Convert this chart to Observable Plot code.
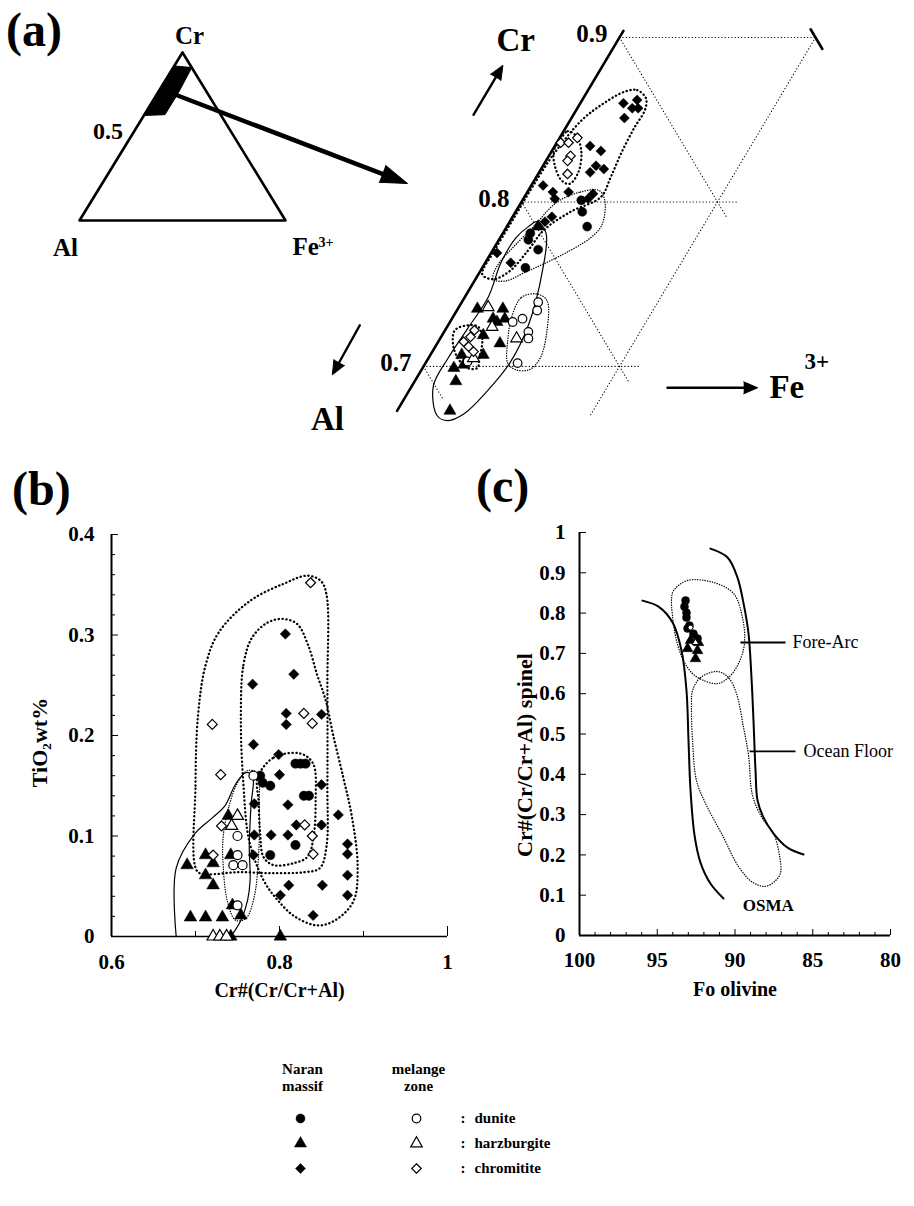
<!DOCTYPE html>
<html><head><meta charset="utf-8">
<script src="https://cdn.jsdelivr.net/npm/d3@7"></script>
<script src="https://cdn.jsdelivr.net/npm/@observablehq/plot@0.6"></script>
<style>
body{margin:0;background:#fff;}
#root{position:relative;width:914px;height:1206px;overflow:hidden;font-family:"Liberation Serif","Times New Roman",Times,serif;font-weight:bold;color:#000;}
#root > *{position:absolute;}
.plab{font-size:48px;line-height:1.1;}
</style></head><body><div id="root"></div>
<script>
// ================= DATA =================
const rockTypes = ["dunite", "harzburgite", "chromitite"];
const sources = ["Naran massif", "melange zone"];
const symbolNames = ["circle", "triangle", "diamond2"];

// ---- Panel (a): ternary Cr–Al–Fe3+, points as [Cr, Fe3+] fractions (Al = 1 − Cr − Fe3+)
const aNaranDunite = [[0.794,0.034],[0.785,0.041],[0.801,0.030],[0.777,0.015],[0.771,0.023],[0.760,0.022],[0.781,0.014]];
const aNaranHarzburgite = [[0.735,0.010],[0.735,0.023],[0.727,0.024],[0.729,0.027],[0.719,0.021],[0.714,0.032],[0.707,0.016],[0.707,0.027],[0.699,0.016],[0.701,0.020],[0.691,0.021],[0.673,0.027],[0.785,0.016],[0.729,0.021]];
const aNaranChromitite = [[0.860,0.022],[0.862,0.028],[0.857,0.028],[0.857,0.031],[0.851,0.027],[0.834,0.018],[0.831,0.025],[0.822,0.027],[0.818,0.026],[0.820,0.032],[0.810,0.006],[0.806,0.013],[0.802,0.016],[0.806,0.021],[0.805,0.034],[0.802,0.033],[0.791,0.020],[0.788,0.018],[0.769,0.003],[0.763,0.013]];
const aMelangeDunite = [[0.739,0.039],[0.734,0.041],[0.727,0.032],[0.729,0.036],[0.721,0.043],[0.717,0.045],[0.702,0.047],[0.703,0.021]];
const aMelangeHarzburgite = [[0.736,0.015],[0.724,0.023],[0.717,0.039],[0.705,0.023]];
const aMelangeChromitite = [[0.836,0.002],[0.836,0.006],[0.839,0.009],[0.828,0.011],[0.825,0.011],[0.817,0.015],[0.722,0.015],[0.718,0.015],[0.715,0.013],[0.712,0.017],[0.709,0.021]];
// envelopes (a)
const aEnvNaranChromitite = [[0.867,0.019],[0.868,0.025],[0.863,0.032],[0.856,0.035],[0.845,0.035],[0.83,0.036],[0.815,0.038],[0.803,0.039],[0.794,0.028],[0.783,0.02],[0.77,0.018],[0.758,0.015],[0.753,0.009],[0.756,0.002],[0.77,0.001],[0.79,0.001],[0.81,0.001],[0.83,0.002],[0.85,0.006],[0.86,0.012]];
const aEnvMelangeChromititeUpper = [[0.837,0.001],[0.843,0.002],[0.840,0.008],[0.831,0.015],[0.818,0.020],[0.811,0.019],[0.813,0.014],[0.822,0.006],[0.831,0.001]];
const aEnvMelangeChromititeLower = [[0.722,0.005],[0.725,0.010],[0.724,0.016],[0.716,0.022],[0.705,0.026],[0.699,0.028],[0.699,0.023],[0.705,0.015],[0.714,0.008]];
const aEnvNaranDunite = [[0.801,0.019],[0.806,0.027],[0.807,0.036],[0.801,0.042],[0.786,0.048],[0.778,0.046],[0.769,0.038],[0.763,0.031],[0.757,0.023],[0.752,0.016],[0.753,0.009],[0.761,0.007],[0.774,0.010],[0.786,0.014],[0.795,0.016]];
const aEnvNaranHarzburgite = [[0.788,0.014],[0.781,0.022],[0.757,0.032],[0.725,0.041],[0.702,0.043],[0.685,0.040],[0.671,0.035],[0.667,0.029],[0.670,0.022],[0.688,0.011],[0.705,0.010],[0.723,0.011],[0.742,0.012],[0.763,0.008],[0.778,0.008],[0.785,0.011]];
const aEnvMelangeDunite = [[0.730,0.030],[0.742,0.029],[0.744,0.036],[0.740,0.043],[0.722,0.052],[0.705,0.057],[0.698,0.055],[0.698,0.048],[0.702,0.042],[0.716,0.035]];
// ternary grid segments shown in the enlarged part, [Cr, Fe3+] end points
const aGrid = [
  {id: "Cr=0.9", pts: [[0.9,0],[0.9,0.1]]},
  {id: "Cr=0.8", pts: [[0.8,0],[0.8,0.11]]},
  {id: "Cr=0.7", pts: [[0.7,0],[0.7,0.11]]},
  {id: "Al=0.1", pts: [[0.9,0],[0.79,0.11]]},
  {id: "Al=0.2", pts: [[0.8,0],[0.69,0.11]]},
  {id: "Al=0.3", pts: [[0.7,0],[0.68,0.02]]},
  {id: "Fe=0.1", pts: [[0.9,0.1],[0.67,0.1]]}
];
const aEdges = [
  {id: "Cr-Al edge", pts: [[0.904,0],[0.673,0]]},
  {id: "Cr-Fe edge", pts: [[0.905,0.095],[0.893,0.107]]}
];
const aTickValues = [0.7, 0.8, 0.9];
const aDirArrows = [
  {name: "Cr", from: [0.853,-0.051], to: [0.883,-0.051]},
  {name: "Al", from: [0.725,-0.045], to: [0.695,-0.044]},
  {name: "Fe", from: [0.687,0.131], to: [0.687,0.177]}
];
const aDirTitlesCentered = [
  {text: "Cr", at: [0.898,-0.052]},
  {text: "Al", at: [0.668,-0.033]}
];
const aDirTitleFe = [{text: "Fe", sup: "3+", at: [0.687,0.183]}];
// inset triangle
const insetVertices = [{name: "Cr", p: [1,0]}, {name: "Al", p: [0,0]}, {name: "Fe", p: [0,1]}];
const insetRegion = [[0.92,0],[0.91,0.09],[0.76,0.10],[0.63,0.10],[0.625,0]];
const insetTick = [0.5];
const insetArrow = [{from: [0.744,0.104], to: [0.220,1.482]}];

// ---- Panel (b): [Cr#, TiO2 wt%]
const bNaranDunite = [[0.819,0.172],[0.825,0.172],[0.831,0.172],[0.777,0.160],[0.780,0.153],[0.789,0.150],[0.829,0.140],[0.835,0.140],[0.819,0.091],[0.789,0.081]];
const bNaranHarzburgite = [[0.739,0.120],[0.690,0.071],[0.712,0.081],[0.721,0.073],[0.712,0.061],[0.721,0.051],[0.742,0.081],[0.712,0.019],[0.732,0.019],[0.754,0.021],[0.744,0.031],[0.694,0.019],[0.801,0.0],[0.742,0.0]];
const bNaranChromitite = [[0.807,0.301],[0.817,0.261],[0.768,0.251],[0.808,0.222],[0.808,0.211],[0.850,0.221],[0.769,0.191],[0.799,0.181],[0.800,0.161],[0.850,0.151],[0.810,0.131],[0.770,0.132],[0.870,0.121],[0.820,0.111],[0.850,0.111],[0.770,0.101],[0.790,0.101],[0.810,0.101],[0.881,0.092],[0.881,0.082],[0.769,0.081],[0.881,0.061],[0.811,0.051],[0.851,0.051],[0.801,0.041],[0.881,0.041],[0.840,0.021]];
const bMelangeDunite = [[0.750,0.100],[0.750,0.081],[0.745,0.071],[0.756,0.071],[0.769,0.160],[0.750,0.031]];
const bMelangeHarzburgite = [[0.750,0.120],[0.743,0.110],[0.721,0.0],[0.729,0.0],[0.737,0.0]];
const bMelangeChromitite = [[0.837,0.352],[0.720,0.211],[0.829,0.222],[0.839,0.212],[0.730,0.161],[0.830,0.111],[0.839,0.100],[0.840,0.082],[0.731,0.110],[0.721,0.081]];
const bEnvMelangeChromitite = [[0.702,0.065],[0.700,0.15],[0.703,0.22],[0.712,0.27],[0.728,0.303],[0.765,0.334],[0.805,0.351],[0.833,0.359],[0.849,0.354],[0.856,0.34],[0.857,0.25],[0.857,0.15],[0.856,0.09],[0.848,0.068],[0.83,0.064],[0.79,0.063],[0.75,0.064],[0.715,0.062]];
const bEnvNaranChromitite = [[0.754,0.215],[0.757,0.27],[0.767,0.297],[0.785,0.312],[0.803,0.316],[0.821,0.311],[0.834,0.29],[0.845,0.26],[0.855,0.235],[0.864,0.2],[0.876,0.158],[0.886,0.12],[0.893,0.07],[0.888,0.035],[0.866,0.016],[0.845,0.011],[0.818,0.02],[0.798,0.036],[0.781,0.056],[0.764,0.095],[0.757,0.152]];
const bEnvNaranDunite = [[0.774,0.158],[0.793,0.178],[0.825,0.182],[0.840,0.172],[0.843,0.135],[0.840,0.096],[0.833,0.079],[0.817,0.073],[0.793,0.071],[0.781,0.079],[0.777,0.102],[0.775,0.135]];
const bEnvMelangeDunite = [[0.733,0.10],[0.74,0.13],[0.75,0.153],[0.762,0.165],[0.773,0.163],[0.776,0.13],[0.775,0.08],[0.77,0.04],[0.76,0.018],[0.748,0.016],[0.738,0.035],[0.733,0.07]];
const bEnvNaranHarzburgite = [[0.677,0.0],[0.677,0.068],[0.70,0.103],[0.72,0.118],[0.735,0.13],[0.748,0.152],[0.76,0.163],[0.768,0.16],[0.766,0.13],[0.764,0.09],[0.765,0.056],[0.762,0.036],[0.754,0.016],[0.742,0.0]];
const bXTicks = [0.6, 0.8, 1];
const bXMinor = [0.7, 0.9];
const bYTicks = [0, 0.1, 0.2, 0.3, 0.4];
const bYMinor = [0.02,0.04,0.06,0.08,0.12,0.14,0.16,0.18,0.22,0.24,0.26,0.28,0.32,0.34,0.36,0.38];

// ---- Panel (c): [Fo olivine, Cr# spinel]
const cNaranDunite = [[93.18,0.831],[93.25,0.816],[93.12,0.789],[93.05,0.762],[92.67,0.749],[92.41,0.737],[92.93,0.769],[93.12,0.801]];
const cNaranHarzburgite = [[93.05,0.712],[92.41,0.707],[92.54,0.687],[92.86,0.732],[92.35,0.727]];
const cMelangeDunite = [[92.86,0.764]];
const cMelangeHarzburgite = [[92.54,0.727]];
const cOSMALeft = [[95.95,0.831],[94.92,0.816],[94.02,0.777],[93.44,0.707],[93.12,0.608],[92.99,0.484],[92.86,0.360],[92.60,0.248],[92.22,0.181],[91.58,0.129],[90.74,0.092]];
const cOSMARight = [[91.58,0.960],[90.48,0.938],[89.84,0.888],[89.45,0.824],[89.13,0.749],[88.94,0.640],[88.81,0.533],[88.68,0.409],[88.55,0.335],[88.17,0.293],[87.52,0.253],[86.62,0.218],[85.59,0.201]];
const cEnvForeArc = [[93.95,0.856],[93.05,0.881],[91.38,0.876],[90.10,0.849],[89.52,0.789],[89.39,0.725],[89.77,0.675],[90.42,0.640],[91.13,0.625],[92.03,0.633],[92.73,0.650],[93.31,0.682],[93.76,0.732],[94.02,0.794],[94.08,0.836]];
const cEnvOceanFloor = [[92.73,0.608],[92.22,0.640],[91.13,0.655],[90.42,0.640],[89.90,0.600],[89.45,0.516],[89.13,0.447],[88.87,0.347],[88.23,0.290],[87.52,0.253],[87.14,0.199],[87.07,0.156],[87.40,0.136],[88.04,0.122],[88.87,0.132],[89.77,0.171],[90.80,0.248],[91.90,0.328],[92.48,0.385],[92.73,0.484],[92.80,0.571]];
const cLeaders = [
  {text: "Fore-Arc", from: [89.65,0.727], to: [86.75,0.727], at: [86.3,0.727]},
  {text: "Ocean Floor", from: [89.06,0.457], to: [86.11,0.457], at: [85.6,0.457]}
];
const cOSMALabel = [{text: "OSMA", at: [89.5,0.074]}];
const cXTicks = [100, 95, 90, 85, 80];
const cXMinor = [99,98,97,96,94,93,92,91,89,88,87,86,84,83,82,81];
const cYTicks = [0,0.1,0.2,0.3,0.4,0.5,0.6,0.7,0.8,0.9,1];

// ================= HELPERS =================
const FONT = '"Liberation Serif","Times New Roman",Times,serif';
const baseStyle = {background: "transparent", overflow: "visible", fontFamily: FONT, fontWeight: "bold", fontSize: "21px", color: "black"};
const SQ = Math.sqrt(3) / 2;
const tX = p => p[1] + p[0] / 2;
const tY = p => p[0] * SQ;
const recs = (arr, src, rock) => arr.map(p => ({src, rock, p}));
const flat = segs => segs.flatMap(s => s.pts.map(p => ({id: s.id, p})));
const symbolScale = {domain: rockTypes, range: symbolNames};
const heavyDots = {stroke: "black", strokeWidth: 2.3, strokeDasharray: "0.3,3.6", strokeLinecap: "round", fill: "none"};
const fineDots = {stroke: "black", strokeWidth: 1.3, strokeDasharray: "0.3,2.2", strokeLinecap: "round", fill: "none"};
const root = document.getElementById("root");
function place(node, left, top) { node.style.left = left + "px"; node.style.top = top + "px"; root.appendChild(node); }
function angleOf(from, to, kx, ky, fx, fy) {
  const dx = (fx(to) - fx(from)) * kx, dy = -(fy(to) - fy(from)) * ky;
  return Math.atan2(dx, -dy) * 180 / Math.PI;
}

// ================= PANEL (a) inset =================
{
  const W = 440, H = 260, xd = [-0.3835, 1.7524], yd = [-0.2062, 1.134];
  const kx = W / (xd[1] - xd[0]), ky = H / (yd[1] - yd[0]);
  const arrowRot = d => angleOf(d.from, d.to, kx, ky, tX, tY);
  const vx = d => tX(d.p), vy = d => tY(d.p);
  const svg = Plot.plot({
    width: W, height: H, margin: 0,
    x: {domain: xd, axis: null}, y: {domain: yd, axis: null},
    style: baseStyle,
    marks: [
      Plot.line(insetVertices, {x: vx, y: vy, curve: "linear-closed", stroke: "black", strokeWidth: 2.6}),
      Plot.line(insetRegion, {x: tX, y: tY, curve: "linear-closed", fill: "black", stroke: "black", strokeWidth: 1}),
      Plot.arrow(insetArrow, {x1: d => tX(d.from), y1: d => tY(d.from), x2: d => tX(d.to), y2: d => tY(d.to), headLength: 0, insetEnd: 22, strokeWidth: 4.5, stroke: "black"}),
      Plot.vector(insetArrow, {x: d => tX(d.to), y: d => tY(d.to), rotate: arrowRot, length: 27, r: 9, shape: "spike", anchor: "end", fill: "black", stroke: "black", strokeWidth: 1}),
      Plot.text(insetVertices.filter(d => d.name === "Cr"), {x: vx, y: vy, text: "name", dx: 7, dy: -16, fontSize: 25}),
      Plot.text(insetVertices.filter(d => d.name === "Al"), {x: vx, y: vy, text: "name", dx: -14, dy: 28, fontSize: 25}),
      Plot.text(insetVertices.filter(d => d.name === "Fe"), {x: vx, y: vy, text: "name", dx: 7, dy: 27, textAnchor: "start", fontSize: 25}),
      Plot.text(insetVertices.filter(d => d.name === "Fe"), {x: vx, y: vy, text: () => "3+", dx: 33, dy: 22, textAnchor: "start", fontSize: 14}),
      Plot.text(insetTick, {x: v => tX([v, 0]), y: v => tY([v, 0]), text: v => String(v), textAnchor: "end", dx: -8, dy: -5, fontSize: 24})
    ]
  });
  place(svg, 0, 0);
}

// ================= PANEL (a) enlarged =================
{
  const W = 614, H = 440, xd = [0.28724, 0.60051], yd = [0.5672, 0.7989];
  const kx = W / (xd[1] - xd[0]), ky = H / (yd[1] - yd[0]);
  const arrowRot = d => angleOf(d.from, d.to, kx, ky, tX, tY);
  const filled = [...recs(aNaranDunite, sources[0], "dunite"), ...recs(aNaranHarzburgite, sources[0], "harzburgite"), ...recs(aNaranChromitite, sources[0], "chromitite")];
  const open = [...recs(aMelangeDunite, sources[1], "dunite"), ...recs(aMelangeHarzburgite, sources[1], "harzburgite"), ...recs(aMelangeChromitite, sources[1], "chromitite")];
  const env = (arr, style, curve = "catmull-rom-closed") => Plot.line(arr, {x: tX, y: tY, curve, ...style});
  const svg = Plot.plot({
    width: W, height: H, margin: 0,
    x: {domain: xd, axis: null}, y: {domain: yd, axis: null},
    symbol: symbolScale,
    style: baseStyle,
    marks: [
      Plot.line(flat(aGrid), {x: d => tX(d.p), y: d => tY(d.p), z: "id", stroke: "black", strokeWidth: 1.1, strokeDasharray: "0.3,3", strokeLinecap: "round"}),
      Plot.line(flat(aEdges), {x: d => tX(d.p), y: d => tY(d.p), z: "id", stroke: "black", strokeWidth: 2.6}),
      env(aEnvNaranChromitite, heavyDots),
      env(aEnvMelangeChromititeUpper, heavyDots),
      env(aEnvMelangeChromititeLower, heavyDots),
      env(aEnvNaranDunite, fineDots),
      env(aEnvMelangeDunite, fineDots),
      env(aEnvNaranHarzburgite, {stroke: "black", strokeWidth: 1.2, fill: "none"}),
      Plot.dot(filled, {x: d => tX(d.p), y: d => tY(d.p), symbol: "rock", fill: "black", stroke: "black", strokeWidth: 0.5, r: 4.5}),
      Plot.dot(open, {x: d => tX(d.p), y: d => tY(d.p), symbol: "rock", fill: "white", stroke: "black", strokeWidth: 1.2, r: 4.3}),
      Plot.text(aTickValues, {x: v => tX([v, 0]), y: v => tY([v, 0]), text: v => String(v), textAnchor: "end", dx: -12, dy: -3, fontSize: 25}),
      Plot.arrow(aDirArrows, {x1: d => tX(d.from), y1: d => tY(d.from), x2: d => tX(d.to), y2: d => tY(d.to), headLength: 0, insetEnd: 11, strokeWidth: 2.4, stroke: "black"}),
      Plot.vector(aDirArrows, {x: d => tX(d.to), y: d => tY(d.to), rotate: arrowRot, length: 14, r: 6, shape: "spike", anchor: "end", fill: "black", stroke: "black", strokeWidth: 1}),
      Plot.text(aDirTitlesCentered, {x: d => tX(d.at), y: d => tY(d.at), text: "text", textAnchor: "middle", fontSize: 33}),
      Plot.text(aDirTitleFe, {x: d => tX(d.at), y: d => tY(d.at), text: "text", textAnchor: "start", fontSize: 33}),
      Plot.text(aDirTitleFe, {x: d => tX(d.at), y: d => tY(d.at), text: "sup", textAnchor: "start", dx: 35, dy: -26, fontSize: 23})
    ]
  });
  place(svg, 300, 0);
}

// ================= PANEL (b) =================
{
  const filled = [...recs(bNaranDunite, sources[0], "dunite"), ...recs(bNaranHarzburgite, sources[0], "harzburgite"), ...recs(bNaranChromitite, sources[0], "chromitite")];
  const open = [...recs(bMelangeDunite, sources[1], "dunite"), ...recs(bMelangeHarzburgite, sources[1], "harzburgite"), ...recs(bMelangeChromitite, sources[1], "chromitite")];
  const env = (arr, style, curve = "catmull-rom-closed") => Plot.line(arr, {x: d => d[0], y: d => d[1], curve, ...style});
  const svg = Plot.plot({
    width: 470, height: 540, marginLeft: 111, marginRight: 23, marginTop: 54, marginBottom: 84,
    x: {domain: [0.6, 1]}, y: {domain: [0, 0.4]},
    symbol: symbolScale,
    style: baseStyle,
    marks: [
      env(bEnvMelangeChromitite, heavyDots),
      env(bEnvNaranChromitite, heavyDots),
      env(bEnvNaranDunite, heavyDots),
      env(bEnvMelangeDunite, fineDots),
      env(bEnvNaranHarzburgite, {stroke: "black", strokeWidth: 1.2, fill: "none"}, "catmull-rom"),
      Plot.ruleX([0.6], {strokeWidth: 2}),
      Plot.ruleY([0], {strokeWidth: 1.6}),
      Plot.axisX({ticks: bXTicks, tickSize: 10, dy: -10, tickPadding: 18, tickFormat: d => String(d), label: null}),
      Plot.axisX({ticks: bXMinor, tickSize: 5, dy: -5, tickFormat: () => "", label: null}),
      Plot.axisY({ticks: bYTicks, tickSize: 7, dx: 7, tickPadding: 17, tickFormat: d => String(d), label: null}),
      Plot.axisY({ticks: bYMinor, tickSize: 4, dx: 4, tickFormat: () => "", label: null}),
      Plot.dot(filled, {x: d => d.p[0], y: d => d.p[1], symbol: "rock", fill: "black", stroke: "black", strokeWidth: 0.5, r: 4.7}),
      Plot.dot(open, {x: d => d.p[0], y: d => d.p[1], symbol: "rock", fill: "white", stroke: "black", strokeWidth: 1.2, r: 4.5}),
      Plot.text(["TiO₂wt%"], {frameAnchor: "left", text: d => d, textAnchor: "middle", rotate: -90, dx: -72, dy: 7, fontSize: 22}),
      Plot.text(["Cr#(Cr/Cr+Al)"], {frameAnchor: "bottom", text: d => d, dy: 60, fontSize: 20})
    ]
  });
  place(svg, 0, 480);
}

// ================= PANEL (c) =================
{
  const filled = [...recs(cNaranDunite, sources[0], "dunite"), ...recs(cNaranHarzburgite, sources[0], "harzburgite")];
  const open = [...recs(cMelangeDunite, sources[1], "dunite"), ...recs(cMelangeHarzburgite, sources[1], "harzburgite")];
  const crv = (arr, style, curve) => Plot.line(arr, {x: d => d[0], y: d => d[1], curve, ...style});
  const svg = Plot.plot({
    width: 454, height: 540, marginLeft: 119, marginRight: 24, marginTop: 52, marginBottom: 85,
    x: {domain: [100, 80]}, y: {domain: [0, 1]},
    symbol: symbolScale,
    style: baseStyle,
    marks: [
      crv(cOSMALeft, {stroke: "black", strokeWidth: 2}, "catmull-rom"),
      crv(cOSMARight, {stroke: "black", strokeWidth: 2}, "catmull-rom"),
      crv(cEnvForeArc, fineDots, "catmull-rom-closed"),
      crv(cEnvOceanFloor, fineDots, "catmull-rom-closed"),
      Plot.ruleX([100], {strokeWidth: 2}),
      Plot.ruleY([0], {strokeWidth: 2}),
      Plot.axisX({ticks: cXTicks, tickSize: 6, dy: -6, tickPadding: 17, tickFormat: d => String(d), label: null}),
      Plot.axisX({ticks: cXMinor, tickSize: 3, dy: -3, tickFormat: () => "", label: null}),
      Plot.axisY({ticks: cYTicks, tickSize: 7, dx: 7, tickPadding: 14, tickFormat: d => String(d), label: null}),
      Plot.dot(filled, {x: d => d.p[0], y: d => d.p[1], symbol: "rock", fill: "black", stroke: "black", strokeWidth: 0.5, r: 4}),
      Plot.dot(open, {x: d => d.p[0], y: d => d.p[1], symbol: "rock", fill: "white", stroke: "black", strokeWidth: 1, r: 2.5}),
      Plot.link(cLeaders, {x1: d => d.from[0], y1: d => d.from[1], x2: d => d.to[0], y2: d => d.to[1], stroke: "black", strokeWidth: 1.8}),
      Plot.text(cLeaders, {x: d => d.at[0], y: d => d.at[1], text: "text", textAnchor: "start", fontWeight: "normal", fontSize: 18}),
      Plot.text(cOSMALabel, {x: d => d.at[0], y: d => d.at[1], text: "text", textAnchor: "start", fontSize: 17}),
      Plot.text(["Cr#(Cr/Cr+Al) spinel"], {frameAnchor: "left", text: d => d, textAnchor: "middle", rotate: -90, dx: -55, dy: 21, fontSize: 22}),
      Plot.text(["Fo olivine"], {frameAnchor: "bottom", text: d => d, dy: 60, fontSize: 20})
    ]
  });
  place(svg, 460, 480);
}

// ================= LEGEND =================
{
  const svg = Plot.plot({
    width: 914, height: 156, margin: 0,
    x: {type: "point", domain: sources, range: [300, 416], padding: 0, axis: null},
    y: {type: "point", domain: rockTypes, range: [68, 118], padding: 0, axis: null},
    symbol: symbolScale,
    style: {...baseStyle, fontSize: "15px"},
    marks: [
      Plot.dot(rockTypes, {x: () => sources[0], y: d => d, symbol: d => d, fill: "black", stroke: "black", strokeWidth: 0.5, r: 4.5}),
      Plot.dot(rockTypes, {x: () => sources[1], y: d => d, symbol: d => d, fill: "white", stroke: "black", strokeWidth: 1.2, r: 4.3}),
      Plot.text(sources, {x: d => d, frameAnchor: "top", text: d => d.split(" ").join("\n"), lineAnchor: "top", lineHeight: 1.1, dy: 12, dx: 2, fontSize: 15}),
      Plot.text(rockTypes, {y: d => d, frameAnchor: "left", text: () => ":", dx: 460}),
      Plot.text(rockTypes, {y: d => d, frameAnchor: "left", text: d => d, dx: 474, textAnchor: "start"})
    ]
  });
  place(svg, 0, 1050);
}

// ================= PANEL LABELS =================
[["(a)", 6, 4], ["(b)", 12, 463], ["(c)", 476, 460]].forEach(([t, l, tp]) => {
  const d = document.createElement("div"); d.className = "plab"; d.textContent = t; place(d, l, tp);
});
</script></body></html>
